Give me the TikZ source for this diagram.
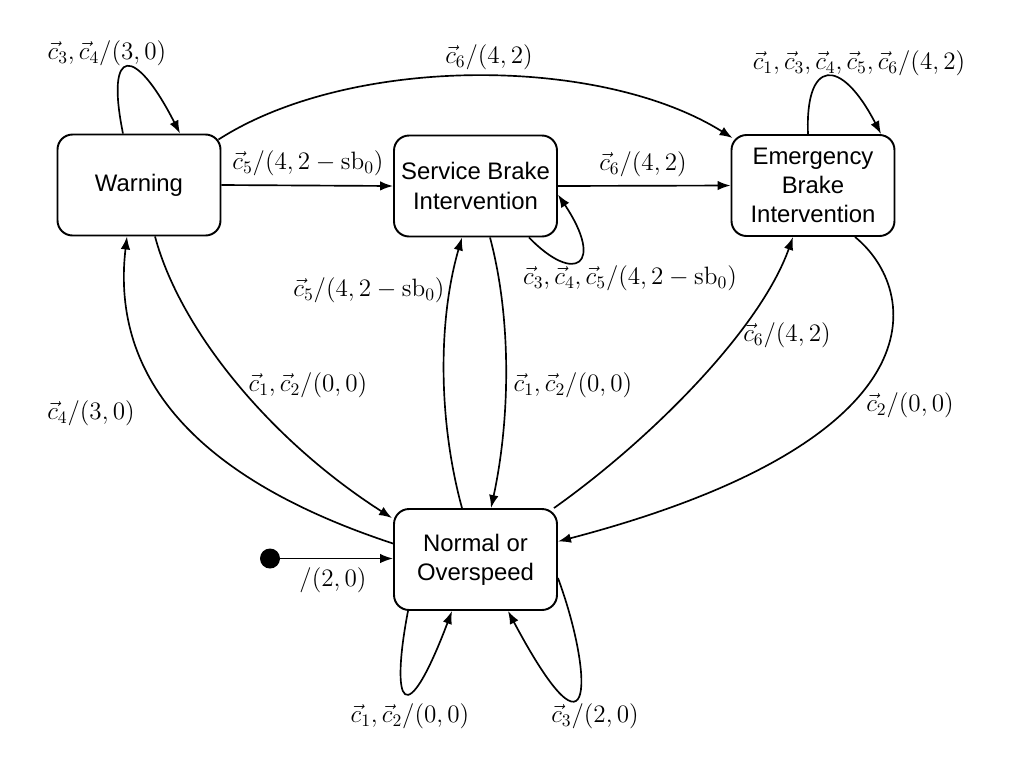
\RequirePackage{fix-cm}
\documentclass[tikz,border=0pt]{standalone}
\usepackage[no-math]{fontspec}
\newfontfamily\sansfam{Liberation Sans}
\usetikzlibrary{arrows.meta,calc}
\begin{document}
\begin{tikzpicture}[x=0.02cm,y=-0.02cm,
  state/.style={draw, rounded corners=3mm, minimum width=3.26cm, minimum height=2.02cm,
    line width=1.1pt, align=center, inner sep=0pt,
    font=\sansfam\fontsize{13.6}{16.6}\selectfont},
  lbl/.style={inner sep=0pt, font=\fontsize{14.3}{17}\selectfont},
  arr/.style={line width=0.95pt, -{Latex[length=2.6mm,width=1.9mm]}}]
\useasboundingbox (0,0) rectangle (1028,772);

\node[state] (W) at (139,185) {Warning};
\node[state] (S) at (475.5,186) {Service Brake\\Intervention};
\node[state] (E) at (813,185.5) {Emergency\\Brake\\Intervention};
\node[state] (N) at (475.5,559.5) {Normal or\\Overspeed};
\node[circle, fill, minimum size=0.4cm, inner sep=0pt] (I) at (270,558.5) {};

% self loop Warning
\draw[arr] ($(W.north)+(-16,0)$) .. controls (105,45) and (135,45) .. ($(W.north)+(41,0)$);
% Warning -> Emergency (top arc)
\draw[arr] ($(W.north east)+(-3,6)$) .. controls (350,55) and (600,55) .. ($(E.north west)+(2,4)$);
% Warning -> Service
\draw[arr] (W.east) -- (S.west);
% Service -> Emergency
\draw[arr] (S.east) -- (E.west);
% Service self loop
\draw[arr] ($(S.south east)+(-29,0)$) .. controls (575,285) and (605,265) .. ($(S.east)+(0,8.5)$);
% Emergency self loop
\draw[arr] ($(E.north)+(-5,0)$) .. controls (805,60) and (840,55) .. ($(E.north)+(68,0)$);
% Warning -> Normal
\draw[arr] ($(W.south)+(16,0)$) .. controls (180,330) and (270,440) .. ($(N.north west)+(-1,10)$);
% Normal -> Warning
\draw[arr] ($(N.west)+(0,-16)$) .. controls (200,480) and (110,380) .. ($(W.south)+(-12,0)$);
% Normal -> Service
\draw[arr] ($(N.north)+(-13.5,0)$) .. controls (438,420) and (438,320) .. ($(S.south)+(-13.5,0)$);
% Service -> Normal
\draw[arr] ($(S.south)+(14.5,0)$) .. controls (512,320) and (510,420) .. ($(N.north)+(15.5,0)$);
% Normal -> Emergency
\draw[arr] ($(N.north east)+(-4,0)$) .. controls (650,440) and (760,330) .. ($(E.south)+(-20,0)$);
% Emergency -> Normal
\draw[arr] ($(E.south)+(42,0)$) .. controls (920,290) and (945,440) .. ($(N.east)+(0,-18)$);
% initial
\draw[arr] (I) -- (I -| N.west);
% Normal self loops
\draw[arr] ($(N.south)+(-67.5,0)$) .. controls (390,705) and (405,735) .. ($(N.south)+(-23.5,0)$);
\draw[arr] ($(N.east)+(0,18.5)$) .. controls (592,670) and (598,780) .. ($(N.south)+(32.5,0)$);

% labels
\node[lbl] (l1) at (107,53) {$\vec{c}_3,\vec{c}_4/(3,0)$};
\node[lbl] (l2) at (489,57) {$\vec{c}_6/(4,2)$};
\node[lbl] (l3) at (859,63) {$\vec{c}_1,\vec{c}_3,\vec{c}_4,\vec{c}_5,\vec{c}_6/(4,2)$};
\node[lbl] (l4) at (308,163) {$\vec{c}_5/(4,2-\mathrm{sb}_0)$};
\node[lbl] (l5) at (643,164) {$\vec{c}_6/(4,2)$};
\node[lbl] (l6) at (630,278) {$\vec{c}_3,\vec{c}_4,\vec{c}_5/(4,2-\mathrm{sb}_0)$};
\node[lbl] (l7) at (369,290) {$\vec{c}_5/(4,2-\mathrm{sb}_0)$};
\node[lbl] (l8) at (308,385) {$\vec{c}_1,\vec{c}_2/(0,0)$};
\node[lbl] (l9) at (573,385) {$\vec{c}_1,\vec{c}_2/(0,0)$};
\node[lbl] (l10) at (787,335) {$\vec{c}_6/(4,2)$};
\node[lbl] (l11) at (910,405) {$\vec{c}_2/(0,0)$};
\node[lbl] (l12) at (91,413) {$\vec{c}_4/(3,0)$};
\node[lbl] (l13) at (333,580) {$/(2,0)$};
\node[lbl] (l14) at (410,716) {$\vec{c}_1,\vec{c}_2/(0,0)$};
\node[lbl] (l15) at (595,716) {$\vec{c}_3/(2,0)$};
\end{tikzpicture}
\end{document}
